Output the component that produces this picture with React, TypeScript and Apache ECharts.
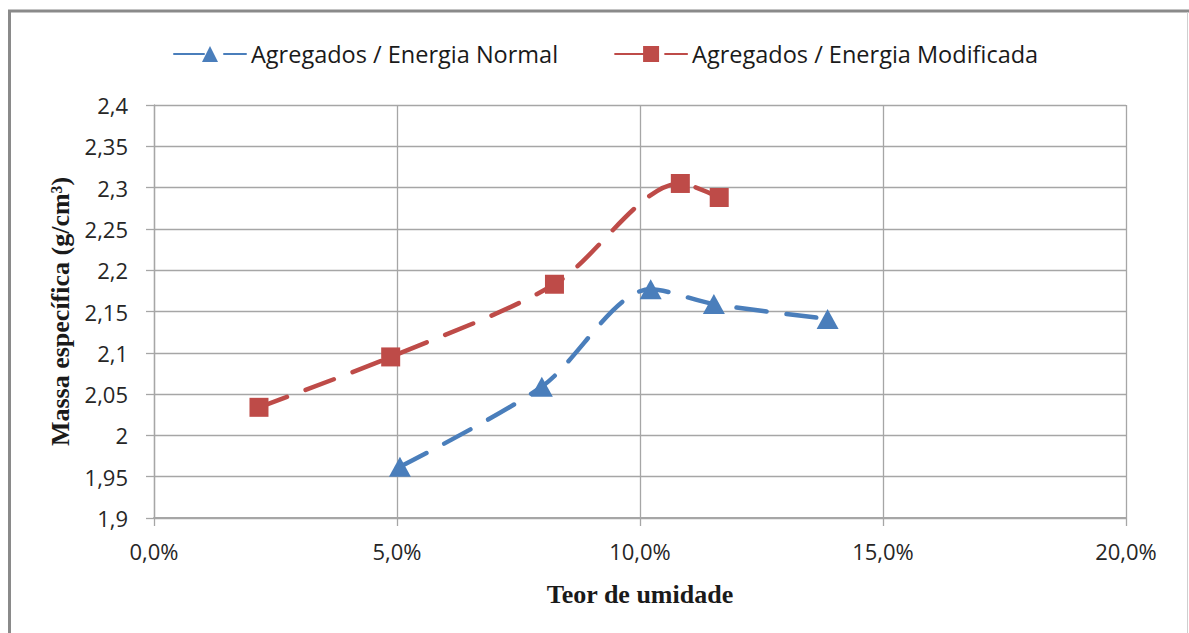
import React, { useEffect, useRef } from "react";
import * as echarts from "echarts";

// Teor de umidade (%) e massa específica (g/cm³)
const normalMoisture = [5.06, 7.98, 10.22, 11.52, 13.86];
const normalDensity = [1.962, 2.059, 2.177, 2.159, 2.141];
const modifiedMoisture = [2.16, 4.87, 8.24, 10.83, 11.63];
const modifiedDensity = [2.034, 2.095, 2.183, 2.305, 2.288];

const seriesNames = ["Agregados / Energia Normal", "Agregados / Energia Modificada"];
const xTicks = [0, 5, 10, 15, 20];
const yTicks = [1.9, 1.95, 2, 2.05, 2.1, 2.15, 2.2, 2.25, 2.3, 2.35, 2.4];

const BLUE = "#4A7EBB";
const RED = "#BE4B48";
const GRID = "#A6A6A6";
const SANS = "'Open Sans', Lato, sans-serif";
const SERIF = "'Liberation Serif', 'DejaVu Serif', serif";

export default function App() {
  const ref = useRef<HTMLDivElement>(null);

  useEffect(() => {
    if (!ref.current) return;
    const chart = echarts.init(ref.current, undefined, { renderer: "svg" });

    const pairs = (xs: number[], ys: number[]) => xs.map((x, i) => [x, ys[i]]);
    const lineStyle = (color: string) => ({
      color,
      width: 4.5,
      type: [30, 20] as number[],
      cap: "round" as const,
    });

    chart.setOption({
      animation: false,
      backgroundColor: "#ffffff",
      grid: { left: 154, right: 63, top: 105, bottom: 115, containLabel: false },
      legend: {
        left: 168,
        top: 37,
        itemGap: 56,
        itemWidth: 72,
        itemHeight: 20,
        textStyle: { fontFamily: SANS, fontSize: 23.5, color: "#1a1a1a" },
        data: seriesNames,
      },
      xAxis: {
        type: "value",
        min: xTicks[0],
        max: xTicks[xTicks.length - 1],
        interval: 5,
        name: "Teor de umidade",
        nameLocation: "middle",
        nameGap: 63,
        nameTextStyle: { fontFamily: SERIF, fontSize: 26, fontWeight: "bold", color: "#1a1a1a", verticalAlign: "top" },
        axisLine: { show: true, onZero: false, lineStyle: { color: GRID, width: 2 } },
        axisTick: { show: true, inside: false, length: 8, lineStyle: { color: GRID, width: 1.3 } },
        axisLabel: {
          margin: 22,
          fontFamily: SANS,
          fontSize: 22,
          color: "#262626",
          formatter: (v: number) => v.toFixed(1).replace(".", ",") + "%",
        },
        splitLine: { show: true, lineStyle: { color: GRID, width: 1.3 } },
      },
      yAxis: {
        type: "value",
        min: yTicks[0],
        max: yTicks[yTicks.length - 1],
        interval: 0.05,
        name: "Massa específica (g/cm³)",
        nameLocation: "middle",
        nameGap: 80,
        nameTextStyle: { fontFamily: SERIF, fontSize: 26, fontWeight: "bold", color: "#1a1a1a" },
        axisLine: { show: true, lineStyle: { color: GRID, width: 1.3 } },
        axisTick: { show: true, inside: false, length: 8, lineStyle: { color: GRID, width: 1.3 } },
        axisLabel: {
          margin: 26,
          fontFamily: SANS,
          fontSize: 22,
          color: "#262626",
          formatter: (v: number) => String(Number(v.toFixed(2))).replace(".", ","),
        },
        splitLine: { show: true, lineStyle: { color: GRID, width: 1.3 } },
      },
      series: [
        {
          name: seriesNames[0],
          type: "line",
          data: pairs(normalMoisture, normalDensity),
          smooth: 0.3,
          symbol: "triangle",
          symbolSize: [22, 20],
          itemStyle: { color: BLUE },
          lineStyle: lineStyle(BLUE),
          z: 3,
        },
        {
          name: seriesNames[1],
          type: "line",
          data: pairs(modifiedMoisture, modifiedDensity),
          smooth: 0.3,
          symbol: "rect",
          symbolSize: 19,
          itemStyle: { color: RED },
          lineStyle: lineStyle(RED),
          z: 3,
        },
      ],
      graphic: [
        { type: "line", shape: { x1: 8, y1: 11, x2: 1189, y2: 11 }, style: { stroke: "#8a8a8a", lineWidth: 3 } },
        { type: "line", shape: { x1: 9.5, y1: 10, x2: 9.5, y2: 633 }, style: { stroke: "#8a8a8a", lineWidth: 3 } },
        { type: "line", shape: { x1: 1187.5, y1: 12, x2: 1187.5, y2: 633 }, style: { stroke: "#cfcfcf", lineWidth: 1 } },
      ],
    });

    return () => chart.dispose();
  }, []);

  return (
    <div
      ref={ref}
      style={{ position: "fixed", left: 0, top: 0, width: 1189, height: 633, background: "#fff" }}
    />
  );
}
